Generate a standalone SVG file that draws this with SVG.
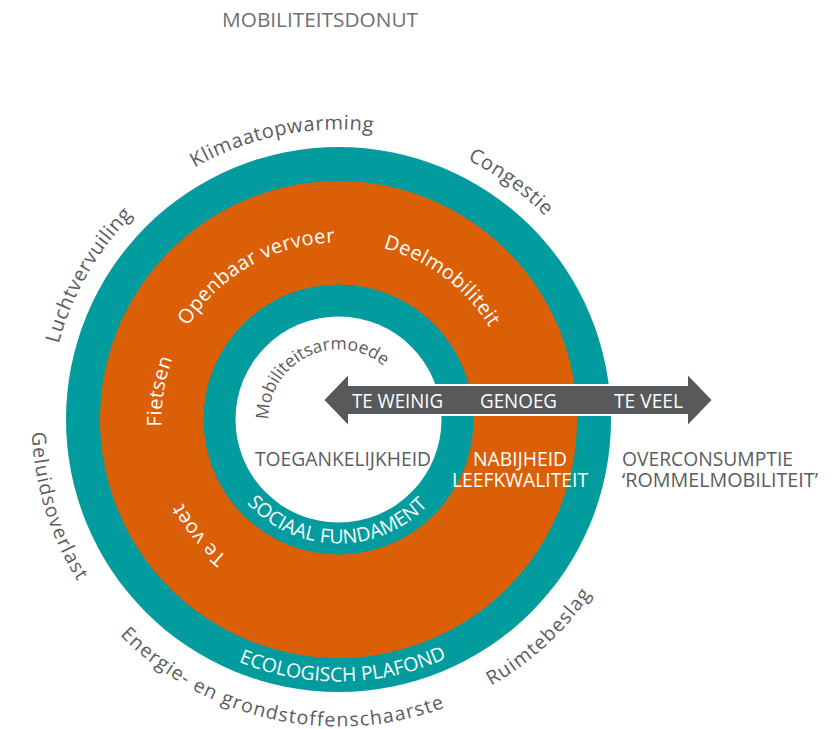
<svg xmlns="http://www.w3.org/2000/svg" xmlns:xlink="http://www.w3.org/1999/xlink" width="839" height="729" viewBox="0 0 839 729">
<style>
text{font-family:"Open Sans","Noto Sans","Liberation Sans",sans-serif;}
.lbl{fill:#5b5c5e;font-size:20px;letter-spacing:0.6px;}
.lblb{fill:#5b5c5e;font-size:19.5px;letter-spacing:1.2px;}
.w{fill:#ffffff;}
.ring{fill:#ffffff;font-size:20px;letter-spacing:0.4px;}
.cap{fill:#ffffff;font-size:19.5px;}
.mid{fill:#5b5c5e;font-size:20.5px;}
.teal{fill:#029c9f;}
.orange{fill:#da5f07;}
</style>
<defs>
<path id="cw290" d="M52.91,369.14 A290,290 0 0 1 624.09,369.14"/>
<path id="ccw307" d="M36.16,472.81 A307,307 0 0 0 640.84,472.81"/>
<path id="cw177" d="M164.19,388.76 A177,177 0 0 1 512.81,388.76"/>
<path id="cw70" d="M269.56,407.34 A70,70 0 0 1 407.44,407.34"/>
<path id="ccw124" d="M216.38,441.03 A124,124 0 0 0 460.62,441.03"/>
<path id="ccw262" d="M80.48,465.00 A262,262 0 0 0 596.52,465.00"/>
</defs>

<text id="title" x="222" y="27.3" font-size="20.7" fill="#6f7072" textLength="196" lengthAdjust="spacingAndGlyphs">MOBILITEITSDONUT</text>

<g id="donut">
<circle class="teal" cx="338.5" cy="419.5" r="272.5"/>
<circle class="orange" cx="338.5" cy="419.5" r="238.5"/>
<circle class="teal" cx="338.5" cy="419.5" r="135"/>
<circle fill="#ffffff" cx="338.5" cy="419.5" r="103"/>
</g>

<g id="connectors">
<polygon id="arrow" points="323,400 349,373 349,385 687,385 687,373 713,400 687,427 687,415 349,415 349,427" fill="#58595b" stroke="#ffffff" stroke-width="2" stroke-linejoin="miter"/>
</g>

<g id="arrow-labels">
<text class="w" x="352" y="408" font-size="20" textLength="91" lengthAdjust="spacingAndGlyphs">TE WEINIG</text>
<text class="w" x="480" y="408" font-size="20" textLength="77" lengthAdjust="spacingAndGlyphs">GENOEG</text>
<text class="w" x="614" y="408" font-size="20" textLength="69" lengthAdjust="spacingAndGlyphs">TE VEEL</text>
</g>

<g id="outer-labels">
<text class="lbl" transform="rotate(-11.4 338.5 419.5)"><textPath xlink:href="#cw290" href="#cw290" startOffset="50%" text-anchor="middle">Klimaatopwarming</textPath></text>
<text class="lbl" transform="rotate(36 338.5 419.5)"><textPath xlink:href="#cw290" href="#cw290" startOffset="50%" text-anchor="middle">Congestie</textPath></text>
<text class="lbl" transform="rotate(-60 338.5 419.5)"><textPath xlink:href="#cw290" href="#cw290" startOffset="50%" text-anchor="middle">Luchtvervuiling</textPath></text>
<text class="lblb" transform="rotate(72.8 338.5 419.5)"><textPath xlink:href="#ccw307" href="#ccw307" startOffset="50%" text-anchor="middle">Geluidsoverlast</textPath></text>
<text class="lblb" transform="rotate(12.5 338.5 419.5)"><textPath xlink:href="#ccw307" href="#ccw307" startOffset="50%" text-anchor="middle">Energie- en grondstoffenschaarste</textPath></text>
<text class="lblb" transform="rotate(-42.7 338.5 419.5)"><textPath xlink:href="#ccw307" href="#ccw307" startOffset="50%" text-anchor="middle">Ruimtebeslag</textPath></text>
</g>

<g id="ecologisch-plafond">
<text class="cap" transform="rotate(-1 338.5 419.5)"><textPath xlink:href="#ccw262" href="#ccw262" startOffset="50%" text-anchor="middle">ECOLOGISCH PLAFOND</textPath></text>
</g>

<g id="modes">
<text class="ring" transform="rotate(-29.7 338.5 419.5)"><textPath xlink:href="#cw177" href="#cw177" startOffset="50%" text-anchor="middle">Openbaar vervoer</textPath></text>
<text class="ring" transform="rotate(36.7 338.5 419.5)"><textPath xlink:href="#cw177" href="#cw177" startOffset="50%" text-anchor="middle">Deelmobiliteit</textPath></text>
<text class="ring" transform="rotate(-81 338.5 419.5)"><textPath xlink:href="#cw177" href="#cw177" startOffset="50%" text-anchor="middle">Fietsen</textPath></text>
<text class="ring" transform="rotate(230.5 338.5 419.5)"><textPath xlink:href="#cw177" href="#cw177" startOffset="50%" text-anchor="middle">Te voet</textPath></text>
</g>

<g id="sociaal-fundament">
<text class="cap" font-size="19.5" transform="rotate(0.7 338.5 419.5)"><textPath xlink:href="#ccw124" href="#ccw124" startOffset="50%" text-anchor="middle">SOCIAAL FUNDAMENT</textPath></text>
</g>

<g id="mobiliteitsarmoede">
<text fill="#5b5c5e" font-size="17.5" transform="rotate(-25 338.5 419.5)"><textPath xlink:href="#cw70" href="#cw70" startOffset="50%" text-anchor="middle">Mobiliteitsarmoede</textPath></text>
</g>

<g id="zone-labels">
<text class="mid" x="255" y="466" font-size="21" textLength="176" lengthAdjust="spacingAndGlyphs">TOEGANKELIJKHEID</text>
<text class="w" x="473" y="466" font-size="20" textLength="94" lengthAdjust="spacingAndGlyphs">NABIJHEID</text>
<text class="w" x="452" y="487" font-size="20" textLength="136" lengthAdjust="spacingAndGlyphs">LEEFKWALITEIT</text>
<text class="mid" x="622" y="466" font-size="20" textLength="171" lengthAdjust="spacingAndGlyphs">OVERCONSUMPTIE</text>
<text class="mid" x="622" y="487" font-size="20" textLength="196" lengthAdjust="spacingAndGlyphs">‘ROMMELMOBILITEIT’</text>
</g>
</svg>
